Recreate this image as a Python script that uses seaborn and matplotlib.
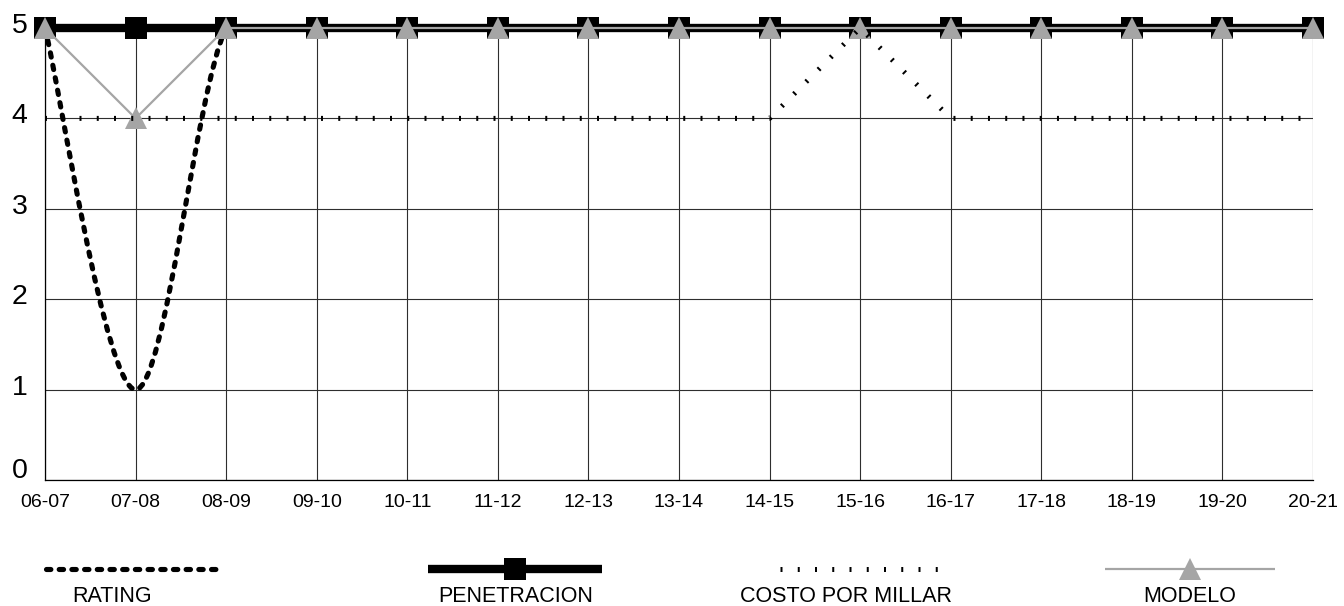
import numpy as np
import pandas as pd
import matplotlib
matplotlib.use("Agg")
import matplotlib.pyplot as plt
import matplotlib.transforms as mtransforms
from matplotlib.path import Path
from matplotlib.patches import PathPatch
from matplotlib.lines import Line2D
import seaborn as sns

# ---- data ----
temporadas = ["06-07", "07-08", "08-09", "09-10", "10-11", "11-12", "12-13",
              "13-14", "14-15", "15-16", "16-17", "17-18", "18-19", "19-20", "20-21"]
rating = [5, 1, 5, 5, 5, 5, 5, 5, 5, 5, 5, 5, 5, 5, 5]
penetracion = [5, 5, 5, 5, 5, 5, 5, 5, 5, 5, 5, 5, 5, 5, 5]
costo_millar = [4, 4, 4, 4, 4, 4, 4, 4, 4, 5, 4, 4, 4, 4, 4]
modelo = [5, 4, 5, 5, 5, 5, 5, 5, 5, 5, 5, 5, 5, 5, 5]
y_ticks = [0, 1, 2, 3, 4, 5]
legend_labels = ["RATING", "PENETRACION", "COSTO POR MILLAR", "MODELO"]

sns.set_theme(style="white")
plt.rcParams["font.family"] = ["Liberation Sans", "DejaVu Sans"]

W, H, DPI = 1344, 606, 100
fig = plt.figure(figsize=(W / DPI, H / DPI), dpi=DPI)
ax = fig.add_axes([45 / W, 1 - 480 / H, (1313 - 45) / W, (480 - 28) / H])

pos = np.arange(len(temporadas))
df = pd.DataFrame({"pos": pos, "rating": rating, "penetracion": penetracion,
                   "costo": costo_millar, "modelo": modelo})

GRAY = "#a5a5a5"
RATING_LW = 3.7
RATING_LS = (0, (0.85, 1.62))
COSTO_LS = (0, (0.4, 3.05))


def smooth_path(xs, ys):
    """Cubic Bezier path through the points (spreadsheet-style smoothing)."""
    pts = np.column_stack([xs, ys]).astype(float)
    n = len(pts)
    verts = [tuple(pts[0])]
    codes = [Path.MOVETO]
    for i in range(n - 1):
        p_prev = pts[i - 1] if i > 0 else pts[i]
        p0, p1 = pts[i], pts[i + 1]
        p_next = pts[i + 2] if i + 2 < n else pts[i + 1]
        c1 = p0 + (p1 - p_prev) / 6.0
        c2 = p1 - (p_next - p0) / 6.0
        verts += [tuple(c1), tuple(c2), tuple(p1)]
        codes += [Path.CURVE4] * 3
    return Path(verts, codes)


# RATING: smoothed dashed curve, clipped to the plotting area
rating_patch = PathPatch(smooth_path(pos, rating), facecolor="none", edgecolor="black",
                         lw=RATING_LW, linestyle=RATING_LS, transform=ax.transData, zorder=3)
rating_patch.set_capstyle("round")
ax.add_patch(rating_patch)

# PENETRACION: heavy black line with square markers
sns.lineplot(data=df, x="pos", y="penetracion", ax=ax, color="black", lw=6.0,
             marker="s", markersize=16, markeredgewidth=0, legend=False, zorder=4)
ax.lines[-1].set_clip_on(False)

# MODELO: thin gray line with triangle markers
sns.lineplot(data=df, x="pos", y="modelo", ax=ax, color=GRAY, lw=1.6,
             marker="^", markersize=16.5, markeredgewidth=0, legend=False, zorder=5)
ax.lines[-1].set_clip_on(False)

# COSTO POR MILLAR: short thick dashes
sns.lineplot(data=df, x="pos", y="costo", ax=ax, color="black", lw=3.6,
             linestyle=COSTO_LS, legend=False, zorder=6)
ax.lines[-1].set_clip_on(False)
ax.lines[-1].set_dash_capstyle("butt")

# ---- axes ----
ax.set_xlim(0, len(temporadas) - 1)
ax.set_ylim(0, 5)
ax.set_xticks(pos)
ax.set_xticklabels(temporadas, fontsize=14)
ax.set_yticks(y_ticks)
ax.set_yticklabels([str(v) for v in y_ticks], fontsize=20.5)
ax.set_xlabel("")
ax.set_ylabel("")
ax.tick_params(axis="x", length=0, pad=10, colors="black")
ax.tick_params(axis="y", length=8.6, width=0.8, pad=4, colors="black", direction="out")
ax.grid(True, color="#2e2e2e", lw=0.8)
ax.set_axisbelow(True)
for side in ("top", "right"):
    ax.spines[side].set_visible(False)
for side in ("left", "bottom"):
    ax.spines[side].set_color("black")
    ax.spines[side].set_linewidth(0.9)

for val, tk in zip(y_ticks, ax.yaxis.get_major_ticks()):
    shift = 12 if val == 0 else 5
    off = mtransforms.ScaledTranslation(0, shift / 100, fig.dpi_scale_trans)
    tk.label1.set_transform(tk.label1.get_transform() + off)
    if val == 0:
        tk.tick1line.set_visible(False)

# ---- legend (handle above its label) ----
ly = 1 - 569 / H
ty = 1 - 596 / H


def fx(px):
    return px / W


fig.add_artist(Line2D([fx(46), fx(220)], [ly, ly], color="black", lw=RATING_LW,
                      linestyle=RATING_LS, dash_capstyle="round",
                      transform=fig.transFigure))
fig.add_artist(Line2D([fx(428), fx(515), fx(602)], [ly, ly, ly], color="black", lw=6.0,
                      marker="s", markersize=16, markeredgewidth=0, markevery=[1],
                      solid_capstyle="butt", transform=fig.transFigure))
fig.add_artist(Line2D([fx(780), fx(946)], [ly, ly], color="black", lw=3.6,
                      linestyle=COSTO_LS, dash_capstyle="butt",
                      transform=fig.transFigure))
fig.add_artist(Line2D([fx(1105), fx(1190), fx(1275)], [ly, ly, ly], color=GRAY, lw=1.6,
                      marker="^", markersize=16.5, markeredgewidth=0, markevery=[1],
                      solid_capstyle="butt", transform=fig.transFigure))

for label, cx in zip(legend_labels, [112, 516, 846, 1190]):
    fig.text(fx(cx), ty, label, ha="center", va="center", fontsize=15.5, color="black")

fig.savefig("out.png", dpi=DPI)
